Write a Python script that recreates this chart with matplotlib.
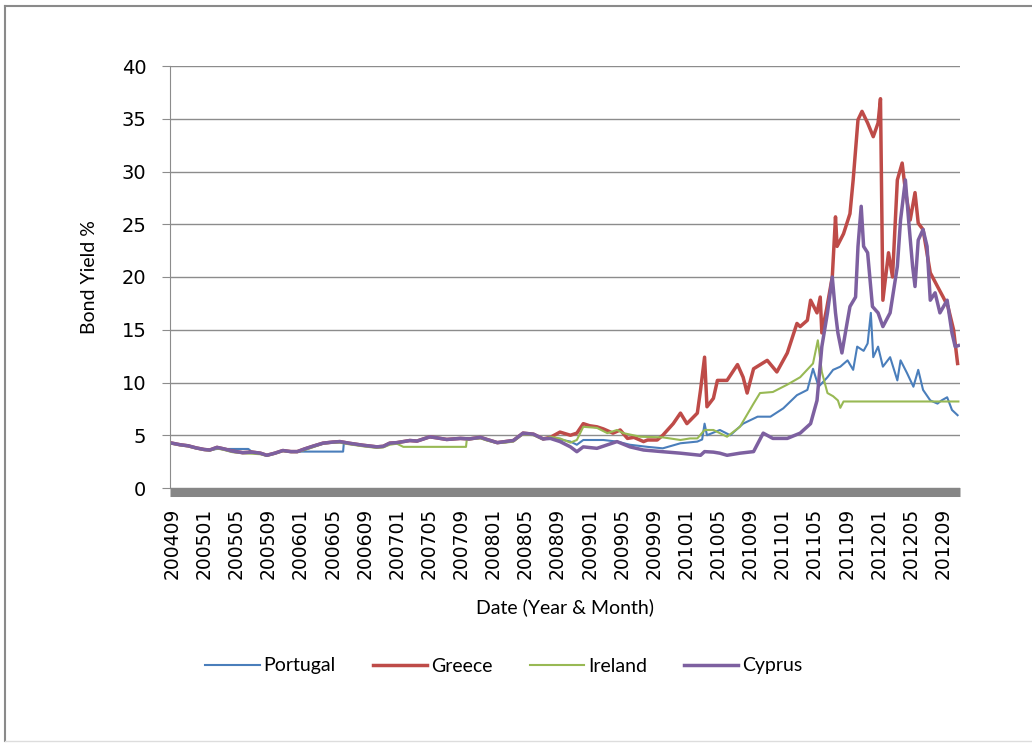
import matplotlib
matplotlib.use("Agg")
import matplotlib.pyplot as plt
from matplotlib.lines import Line2D

# months counted from 2004-09 (0) onwards
tick_labels = ["200409", "200501", "200505", "200509", "200601", "200605", "200609",
               "200701", "200705", "200709", "200801", "200805", "200809", "200901",
               "200905", "200909", "201001", "201005", "201009", "201101", "201105",
               "201109", "201201", "201205", "201209"]

# common path 2004-2008 (Greece, Cyprus)
base_t = [0, 1, 2, 3, 4, 4.7, 5.6, 6.5, 7.5, 8.8, 10, 11, 11.8, 12.8, 13.8, 14.8, 15.6,
          16.5, 17.5, 18.8, 20, 20.9, 22, 23.8, 25.5, 26.3, 27.1, 28, 29.6, 30.5, 32.1,
          33, 34.2, 35.9, 37, 38.4, 39.2, 40.5, 41.5, 42.5, 43.7, 45, 46.2]
base_v = [4.25, 4.1, 4.0, 3.8, 3.65, 3.6, 3.85, 3.7, 3.5, 3.35, 3.4, 3.3, 3.1, 3.3, 3.55,
          3.45, 3.45, 3.7, 3.95, 4.25, 4.35, 4.4, 4.25, 4.05, 3.9, 3.95, 4.25, 4.3, 4.5,
          4.45, 4.85, 4.75, 4.6, 4.7, 4.65, 4.8, 4.6, 4.3, 4.4, 4.5, 5.2, 5.1, 4.65]

portugal_t = [0, 1, 2, 3, 4, 4.7, 5.6, 9.5, 10, 11, 11.8, 12.8, 13.8, 14.8, 15.6, 21.3,
              21.4, 22, 23.8, 25.5, 26.3, 27.1, 28, 29.6, 30.5, 32.1, 33, 34.2, 35.9, 37,
              38.4, 39.2, 40.5, 41.5, 42.5, 43.7, 45, 46.2,
              47.1, 48.3, 49.6, 50.4, 51.2, 53.7, 55.4, 57.0, 59.2, 61.1, 63.3, 65.4,
              66.0, 66.3, 66.6, 68.2, 69.5, 71.1, 72.9, 74.5, 76.1, 77.8, 79.1, 79.8,
              80.5, 81.6, 82.3, 83.2, 84.1, 84.8, 85.3, 86.1, 86.6, 87.0, 87.3, 87.9,
              88.5, 89.4, 90.3, 90.7, 91.5, 92.3, 92.9, 93.5, 94.4, 95.3, 95.8, 96.5,
              97.1, 97.8]
portugal_v = [4.25, 4.1, 4.0, 3.8, 3.65, 3.6, 3.7, 3.7, 3.4, 3.3, 3.1, 3.3, 3.55, 3.45,
              3.45, 3.45, 4.35, 4.25, 4.05, 3.9, 3.95, 4.25, 4.3, 4.5, 4.45, 4.85, 4.75,
              4.6, 4.7, 4.65, 4.8, 4.6, 4.3, 4.4, 4.5, 5.2, 5.1, 4.65,
              4.7, 4.6, 4.4, 4.1, 4.55, 4.55, 4.4, 4.1, 3.9, 3.76, 4.24, 4.4,
              4.6, 6.1, 5.0, 5.5, 5.0, 6.1, 6.76, 6.76, 7.55, 8.8, 9.3, 11.3,
              9.6, 10.5, 11.2, 11.5, 12.1, 11.2, 13.4, 13.0, 13.7, 16.6, 12.4, 13.4,
              11.5, 12.4, 10.2, 12.1, 10.9, 9.6, 11.2, 9.3, 8.3, 8.0, 8.3, 8.6,
              7.4, 6.9]

greece_late_t = [47.1, 48.3, 49.6, 50.4, 51.2, 52, 52.9, 53.7, 54.9, 55.8, 56.7, 57.5,
                 58.7, 59.2, 60.4, 61.1, 62.4, 63.3, 64.1, 64.5, 65.4, 65.8, 66.3, 66.6,
                 67.4, 67.9, 69.1, 70.4, 71.1, 71.6, 72.4, 74.1, 75.3, 76.6, 77.8, 78.2,
                 79.1, 79.5, 80.3, 80.7, 80.9, 81.5, 82.2, 82.6, 82.8, 83.6, 84.4, 84.8,
                 85.4, 85.9, 86.6, 87.3, 87.9, 88.2, 88.5, 89.2, 89.7, 90.3, 90.9, 91.3,
                 91.9, 92.5, 92.9, 93.5, 94.4, 95.3, 96.0, 96.6, 97.3, 97.8]
greece_late_v = [4.8, 5.3, 5.0, 5.2, 6.1, 5.9, 5.8, 5.6, 5.2, 5.5, 4.7, 4.8,
                 4.4, 4.55, 4.55, 5.0, 6.1, 7.1, 6.1, 6.4, 7.1, 9.3, 12.4, 7.7,
                 8.5, 10.2, 10.2, 11.7, 10.5, 9.0, 11.3, 12.1, 11.0, 12.8, 15.6, 15.3,
                 15.9, 17.8, 16.6, 18.1, 14.7, 17.0, 20.0, 25.7, 22.9, 24.1, 26.0, 29.2,
                 34.9, 35.7, 34.6, 33.3, 34.6, 36.9, 17.8, 22.3, 20.0, 29.2, 30.8, 28.2,
                 25.4, 28.0, 25.1, 24.5, 20.4, 19.1, 18.1, 17.2, 15.0, 11.8]

ireland_t = [0, 1, 2, 3, 4, 4.7, 5.6, 6.5, 7.5, 8.8, 10, 11, 11.8, 12.8, 13.8, 14.8, 15.6,
             16.5, 17.5, 18.8, 20, 20.9, 22, 23.8, 25.5, 26.3, 27.1, 28, 28.8, 36.6, 36.7,
             38.4, 39.2, 40.5, 41.5, 42.5, 43.7, 45, 46.2,
             47.1, 48.3, 49.6, 50.4, 51.2, 52.9, 54.2, 55.4, 56.2, 58.3, 61.1, 63.3,
             64.5, 65.4, 66.3, 67.4, 69.1, 70.7, 72.4, 73.2, 74.8, 76.6, 78.2, 79.8,
             80.4, 80.9, 81.6, 82.3, 82.9, 83.2, 83.6, 97.9]
ireland_v = [4.2, 4.05, 3.95, 3.75, 3.6, 3.55, 3.75, 3.6, 3.4, 3.3, 3.25, 3.2, 3.05, 3.25,
             3.5, 3.4, 3.4, 3.6, 3.85, 4.2, 4.3, 4.3, 4.15, 3.95, 3.8, 3.85, 4.1, 4.2,
             3.9, 3.9, 4.6, 4.7, 4.5, 4.25, 4.3, 4.4, 5.1, 5.0, 4.6,
             4.86, 4.7, 4.3, 4.55, 5.8, 5.7, 5.2, 5.5, 5.2, 4.86, 4.8, 4.55,
             4.7, 4.7, 5.5, 5.5, 4.86, 5.8, 8.0, 9.0, 9.1, 9.8, 10.5, 11.8,
             14.0, 11.0, 9.0, 8.7, 8.3, 7.6, 8.2, 8.2]

cyprus_late_t = [47.1, 48.3, 49.6, 50.4, 51.2, 52.9, 55.4, 57.0, 58.7, 61.1, 63.3, 65.8,
                 66.3, 67.4, 68.2, 69.1, 70.7, 72.4, 73.6, 74.8, 76.6, 78.2, 79.5, 80.3,
                 80.9, 81.6, 82.2, 82.6, 82.9, 83.4, 84.1, 84.4, 85.1, 85.4, 85.8, 86.1,
                 86.6, 87.2, 87.9, 88.5, 89.4, 90.3, 90.7, 91.3, 91.7, 92.2, 92.5, 92.9,
                 93.5, 94.0, 94.4, 95.0, 95.6, 96.5, 97.1, 97.5, 97.9]
cyprus_late_v = [4.7, 4.4, 3.9, 3.44, 3.9, 3.76, 4.4, 3.9, 3.6, 3.44, 3.3, 3.1,
                 3.45, 3.4, 3.3, 3.1, 3.3, 3.45, 5.2, 4.7, 4.7, 5.2, 6.1, 8.3,
                 13.4, 16.6, 20.0, 16.6, 14.7, 12.8, 15.9, 17.2, 18.1, 22.9, 26.7, 22.9,
                 22.3, 17.2, 16.6, 15.3, 16.6, 21.0, 25.4, 29.2, 25.4, 21.0, 19.1, 23.5,
                 24.5, 22.9, 17.8, 18.5, 16.6, 17.8, 14.7, 13.4, 13.5]

greece_t = base_t + greece_late_t
greece_v = base_v + greece_late_v
cyprus_t = base_t + cyprus_late_t
cyprus_v = base_v + cyprus_late_v

fig = plt.figure(figsize=(10.32, 7.43), dpi=100)
ax = fig.add_axes([170 / 1032, 1 - 488 / 743, 790 / 1032, 422 / 743])

ax.plot(portugal_t, portugal_v, color="#4A7EBB", lw=1.5, label="Portugal")
ax.plot(greece_t, greece_v, color="#BE4B48", lw=2.5, label="Greece")
ax.plot(ireland_t, ireland_v, color="#98B954", lw=1.5, label="Ireland")
ax.plot(cyprus_t, cyprus_v, color="#7D60A0", lw=2.5, label="Cyprus")

ax.set_xlim(-0.25, 98.1)
ax.set_ylim(0, 40)
ax.set_yticks(range(0, 41, 5))
ax.set_xticks(range(0, 97, 4))
ax.set_xticklabels(tick_labels)
ax.grid(axis="y", color="#8c8c8c", lw=1)
ax.set_axisbelow(True)

for s in ["top", "right"]:
    ax.spines[s].set_visible(False)
ax.spines["left"].set_color("#8c8c8c")
ax.spines["bottom"].set_color("#868686")
ax.spines["bottom"].set_linewidth(6.5)
ax.spines["bottom"].set_capstyle("butt")
ax.spines["bottom"].set_position(("outward", 3.2))
ax.tick_params(axis="y", length=6, color="#8c8c8c", pad=11, labelsize=14)
ax.tick_params(axis="x", length=0, pad=11, labelsize=13.5, labelrotation=90)

ax.set_ylabel("Bond Yield %", fontsize=14, family="Lato", labelpad=17)
ax.set_xlabel("Date (Year & Month)", fontsize=14, family="Lato", labelpad=14)

fig.legend(loc="center", bbox_to_anchor=(504 / 1032, 1 - 666 / 743), ncol=4,
           frameon=False, prop={"family": "Lato", "size": 14},
           handlelength=2.8, handletextpad=0.2, columnspacing=1.9)

# outer chart border
fig.add_artist(Line2D([5 / 1032, 5 / 1032], [2 / 743, 1 - 6 / 743], color="#8a8a8a", lw=1.5))
fig.add_artist(Line2D([5 / 1032, 1], [1 - 6 / 743, 1 - 6 / 743], color="#8a8a8a", lw=1.5))
fig.add_artist(Line2D([5 / 1032, 1], [2 / 743, 2 / 743], color="#dddddd", lw=1))

fig.savefig("out.png", dpi=100)
